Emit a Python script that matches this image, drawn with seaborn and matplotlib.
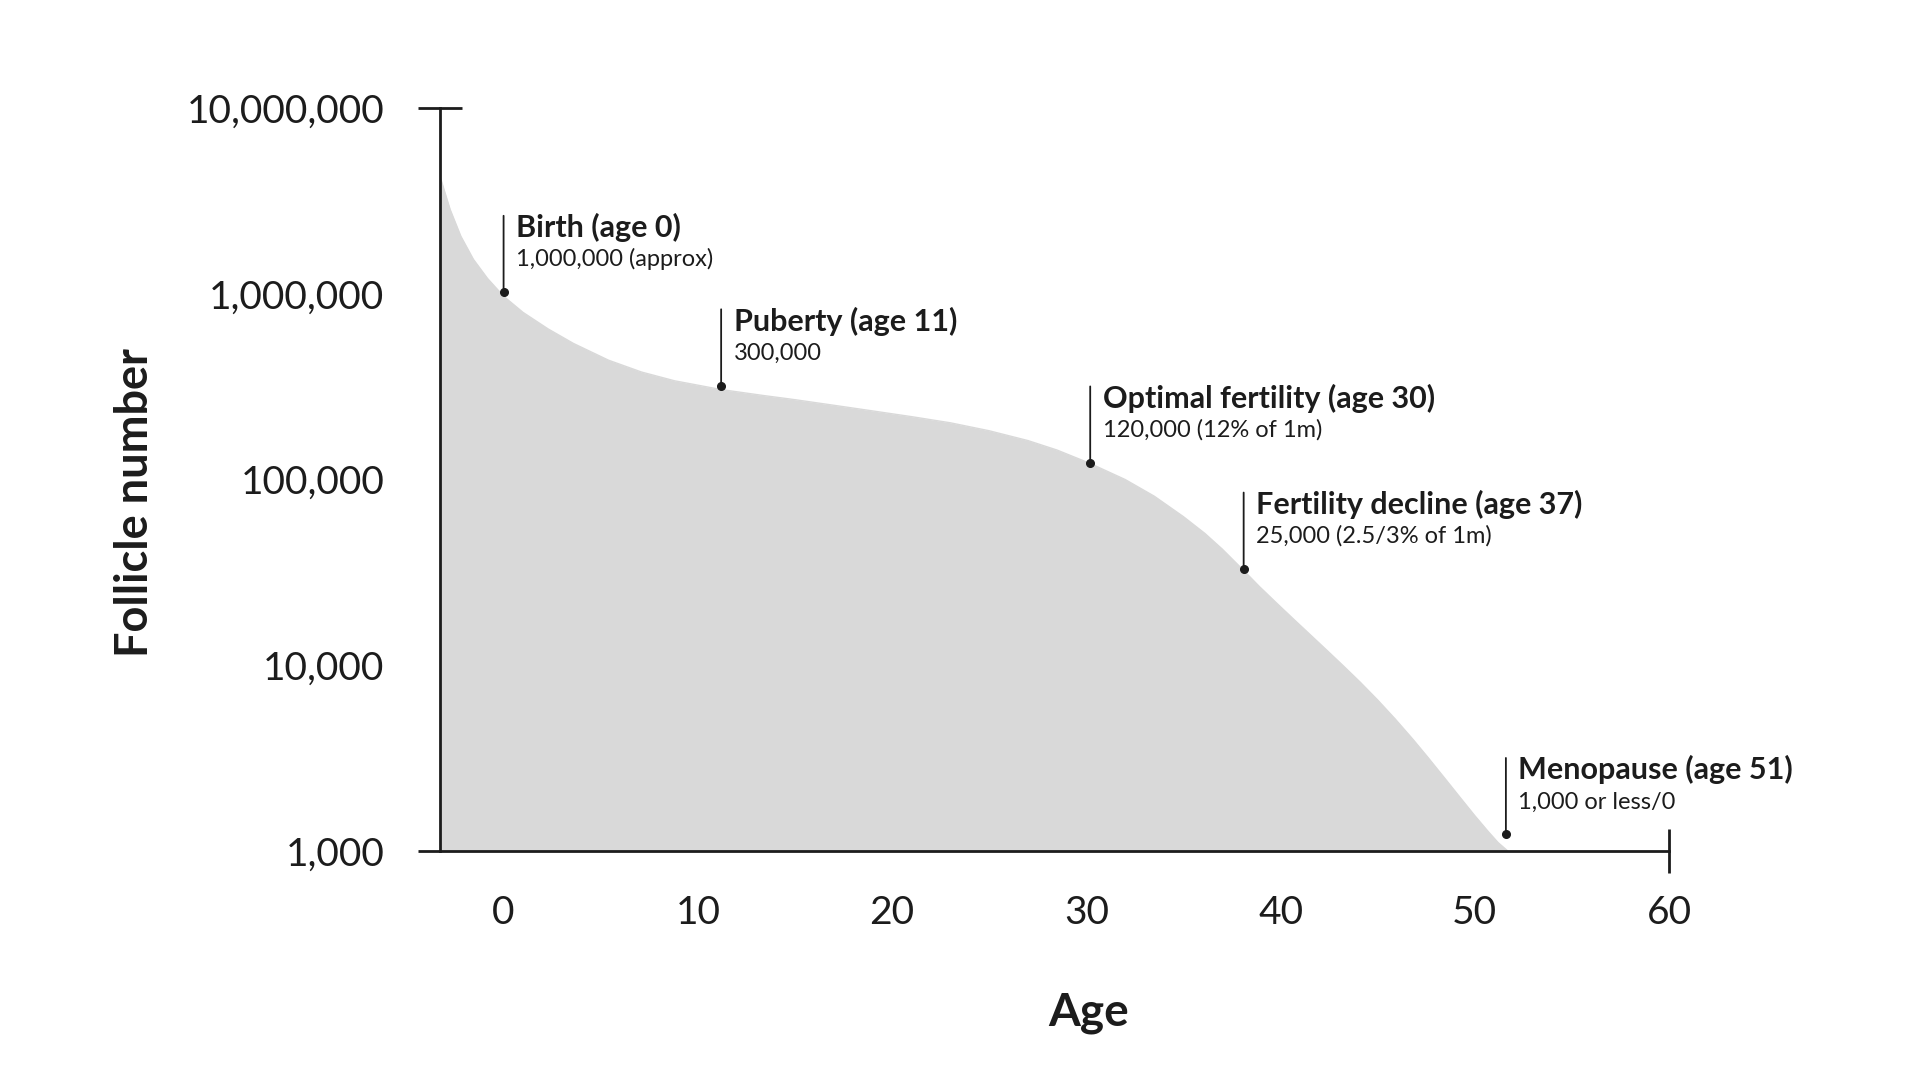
import pandas as pd
import matplotlib
matplotlib.use('Agg')
import matplotlib.pyplot as plt
import matplotlib.transforms as mtransforms
from matplotlib.ticker import FuncFormatter
import seaborn as sns

# curve values (age, follicle count)
ages = [-3.27, -2.75, -2.2, -1.55, -0.83, 0, 1.0, 2.3, 3.6, 5.4, 7.1, 8.8, 11.2,
        13.3, 15, 17, 19, 21, 23, 25, 27, 28.5, 30.2, 32, 33.5, 35, 36.1, 37,
        38.1, 38.9, 39.8, 40.7, 41.5, 42.4, 43.2, 44.1, 45.0, 45.9, 46.8, 47.6,
        48.5, 49.3, 50.0, 50.7, 51.2, 51.7]
follicles = [4.27e6, 2.84e6, 2.04e6, 1.53e6, 1.21e6, 9.7e5, 7.94e5, 6.46e5, 5.40e5,
             4.39e5, 3.79e5, 3.40e5, 3.05e5, 2.84e5, 2.69e5, 2.51e5, 2.34e5, 2.18e5,
             2.02e5, 1.83e5, 1.62e5, 1.44e5, 1.22e5, 1.0e5, 8.13e4, 6.31e4, 5.13e4,
             4.22e4, 3.24e4, 2.66e4, 2.16e4, 1.76e4, 1.47e4, 1.20e4, 1.0e4, 8.11e3,
             6.50e3, 5.14e3, 4.01e3, 3.18e3, 2.43e3, 1.91e3, 1.55e3, 1.27e3, 1.11e3,
             1.0e3]

# milestones
mark_age = [0, 11.2, 30.2, 38.1, 51.6]
mark_val = [1.02e6, 3.2e5, 1.23e5, 3.3e4, 1.23e3]
mark_title = ['Birth (age 0)', 'Puberty (age 11)', 'Optimal fertility (age 30)',
              'Fertility decline (age 37)', 'Menopause (age 51)']
mark_sub = ['1,000,000 (approx)', '300,000', '120,000 (12% of 1m)',
            '25,000 (2.5/3% of 1m)', '1,000 or less/0']

y_ticks = [1e3, 1e4, 1e5, 1e6, 1e7]
x_ticks = [0, 10, 20, 30, 40, 50, 60]

sns.set_theme(style='white')
plt.rcParams['font.family'] = ['Lato', 'DejaVu Sans']
ink = '#1c1c1c'
grey = '#d9d9d9'

df = pd.DataFrame({'age': ages, 'follicles': follicles})

fig = plt.figure(figsize=(19.2, 10.8), dpi=100)
ax = fig.add_axes([0.2292, 0.212, 0.6401, 0.688])

sns.lineplot(data=df, x='age', y='follicles', ax=ax, color=grey, linewidth=1)
ax.fill_between(df['age'], df['follicles'], 1e3, color=grey, linewidth=0)

ax.set_yscale('log')
ax.set_xlim(-3.27, 60)
ax.set_ylim(1e3, 1e7)
ax.set_yticks(y_ticks)
ax.set_xticks(x_ticks)
ax.minorticks_off()
ax.yaxis.set_major_formatter(FuncFormatter(lambda v, p: f'{int(round(v)):,}'))
ax.xaxis.set_major_formatter(FuncFormatter(lambda v, p: f'{int(v)}'))

for s in ['top', 'right']:
    ax.spines[s].set_visible(False)
for s in ['left', 'bottom']:
    ax.spines[s].set_color(ink)
    ax.spines[s].set_linewidth(2.0)

ax.tick_params(axis='both', direction='out', length=16, width=2.0, color=ink,
               labelcolor=ink, labelsize=28)
ax.tick_params(axis='y', pad=24)
ax.tick_params(axis='x', pad=16)

# end caps of the axes
tr_y = mtransforms.blended_transform_factory(ax.transAxes, ax.transData)
ax.plot([-0.0179, 0.0179], [1e7, 1e7], transform=tr_y, color=ink, lw=2.0,
        clip_on=False, solid_capstyle='butt')
ax.plot([-0.0179, 0], [1e3, 1e3], transform=tr_y, color=ink, lw=2.0,
        clip_on=False, solid_capstyle='butt')
tr_x = mtransforms.blended_transform_factory(ax.transData, ax.transAxes)
ax.plot([60, 60], [-0.0296, 0.0296], transform=tr_x, color=ink, lw=2.0,
        clip_on=False, solid_capstyle='butt')

ax.set_xlabel('')
ax.set_ylabel('')
fig.text(0.0705, 0.535, 'Follicle number', rotation=90, ha='center', va='center',
         fontsize=32.5, fontweight='bold', color=ink)
fig.text(0.567, 0.062, 'Age', ha='center', va='center',
         fontsize=33, fontweight='bold', color=ink)

for a, v, t, s in zip(mark_age, mark_val, mark_title, mark_sub):
    ax.plot([a], [v], 'o', color=ink, markersize=5.5, zorder=5)
    ax.annotate('', xy=(a, v), xytext=(0, 55), textcoords='offset points',
                arrowprops=dict(arrowstyle='-', color=ink, lw=1.3,
                                shrinkA=0, shrinkB=0))
    ax.annotate(t, xy=(a, v), xytext=(9.0, 39.6), textcoords='offset points',
                ha='left', va='baseline', fontsize=22, fontweight='bold', color=ink)
    ax.annotate(s, xy=(a, v), xytext=(9.0, 18.7), textcoords='offset points',
                ha='left', va='baseline', fontsize=17, color=ink)

fig.savefig('out.png', dpi=100, facecolor='white')
